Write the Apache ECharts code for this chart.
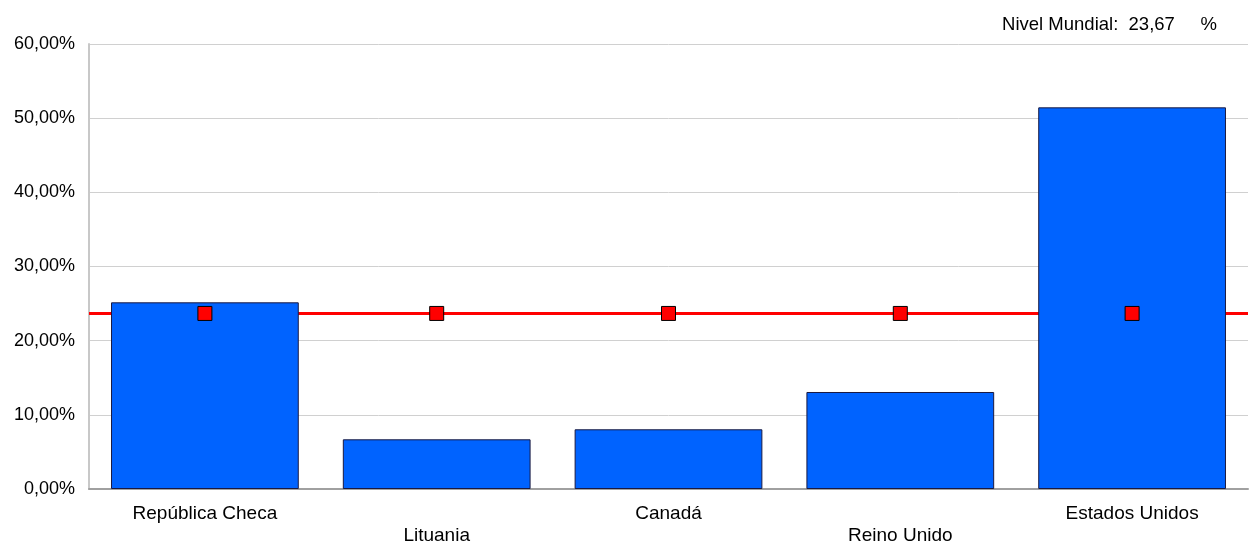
<!DOCTYPE html>
<html>
<head>
<meta charset="utf-8">
<script src="https://cdn.jsdelivr.net/npm/echarts@6/dist/echarts.min.js"></script>
<style>
    html, body { margin: 0; padding: 0; background: #fff; }
    #chart { width: 1250px; height: 546px; }
</style>
</head>
<body>
<div id="chart"></div>
<script>
// países
var paises = ["República Checa", "Lituania", "Canadá", "Reino Unido", "Estados Unidos"];
// porcentaje por país
var valores = [25.17, 6.70, 8.05, 13.08, 51.46];
// nivel mundial
var nivelMundial = 23.67;
var nivelData = [nivelMundial, nivelMundial, nivelMundial, nivelMundial, nivelMundial];

var fmt = function (v) {
    return v.toFixed(2).replace(".", ",") + "%";
};

var dom = echarts.init(document.getElementById("chart"));
var option = {
    animation: false,
    textStyle: { fontFamily: "Liberation Sans" },
    title: {
        text: "Nivel Mundial:  " + nivelMundial.toFixed(2).replace(".", ",") + "     %",
        right: 28,
        top: 10,
        textStyle: { fontSize: 18.5, fontWeight: "normal", color: "#000", fontFamily: "Liberation Sans" }
    },
    grid: { left: 89, right: 2, top: 44, bottom: 57, containLabel: false, outerBoundsMode: "none" },
    xAxis: {
        type: "category",
        data: paises,
        axisTick: { show: false },
        axisLine: { lineStyle: { color: "#a0a0a0", width: 2 } },
        axisLabel: {
            color: "#000",
            fontSize: 19,
            lineHeight: 22,
            margin: 14,
            interval: 0,
            formatter: function (v, i) {
                return i % 2 ? "\n" + v : v;
            }
        }
    },
    yAxis: {
        type: "value",
        min: 0,
        max: 60,
        interval: 10,
        axisLine: { show: true, lineStyle: { color: "#c8c8c8", width: 2 } },
        axisTick: { show: false },
        splitLine: { lineStyle: { color: "#d0d0d0", width: 1 } },
        axisLabel: { color: "#000", fontSize: 18, margin: 14, formatter: fmt }
    },
    series: [
        {
            name: "País",
            type: "bar",
            data: valores,
            barWidth: "81%",
            itemStyle: { color: "#0063ff", borderColor: "#1a1a40", borderWidth: 1 }
        },
        {
            name: "Nivel Mundial",
            type: "line",
            data: nivelData,
            symbol: "rect",
            symbolSize: 14,
            showSymbol: true,
            lineStyle: { width: 0 },
            itemStyle: { color: "#ff0000", borderColor: "#000", borderWidth: 1 },
            z: 5,
            markLine: {
                silent: true,
                symbol: "none",
                label: { show: false },
                lineStyle: { color: "#ff0000", width: 3, type: "solid" },
                data: [{ yAxis: nivelMundial }],
                z: 1
            }
        }
    ]
};
dom.setOption(option);
window.addEventListener("resize", function () { dom.resize(); });
</script>
</body>
</html>
